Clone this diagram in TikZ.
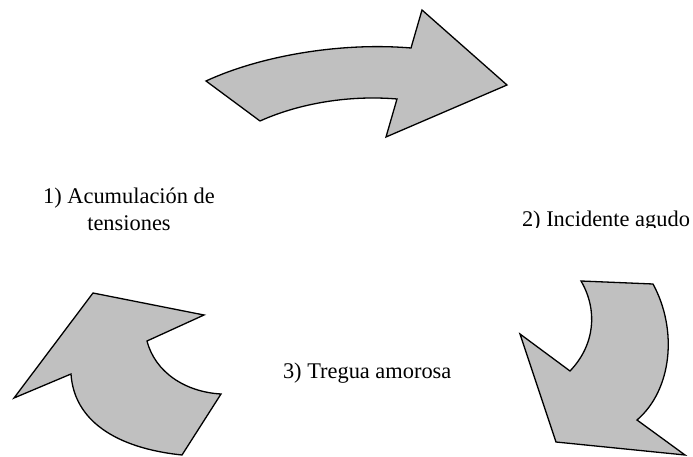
\documentclass[tikz,border=0pt]{standalone}
\usepackage{fontspec}
\setmainfont{Liberation Serif}
\definecolor{arrowgray}{RGB}{192,192,192}
\begin{document}
\begin{tikzpicture}[x=1pt,y=-1pt,
  arrowshape/.style={draw=black, fill=arrowgray, line width=1.3pt, line join=miter},
  lbl/.style={inner sep=0pt, outer sep=0pt, font=\fontsize{22.4}{27}\selectfont}]
\useasboundingbox (0,0) rectangle (693,457);
% top arrow
\draw[arrowshape] (206,81) .. controls (260,56) and (340,42) .. (411,48)
  -- (422,10) -- (507,85) -- (386,137) -- (397,99)
  .. controls (350,95) and (300,103) .. (260,121) -- cycle;
% bottom-left arrow
\draw[arrowshape] (93,293) -- (204,315) -- (147,341)
  .. controls (155,372) and (185,392) .. (221,394) -- (182,455)
  .. controls (115,448) and (74,420) .. (71,374) -- (14,398) -- cycle;
% bottom-right arrow
\draw[arrowshape] (581,281) -- (653,284)
  .. controls (678,330) and (672,390) .. (637,420) -- (685,455)
  -- (556,442) -- (520,334) -- (570,371)
  .. controls (595,345) and (598,310) .. (581,281) -- cycle;
% labels
\node[lbl, align=center, anchor=north] (acum) at (129,188) {1) Acumulación de\\tensiones};
\begin{scope}
  \clip (0,0) rectangle (693,227.5);
  \node[lbl, anchor=base west] (incid) at (522,226) {2) Incidente agudo};
\end{scope}
\node[lbl, anchor=base west] (tregua) at (283,378) {3) Tregua amorosa};
\end{tikzpicture}
\end{document}
